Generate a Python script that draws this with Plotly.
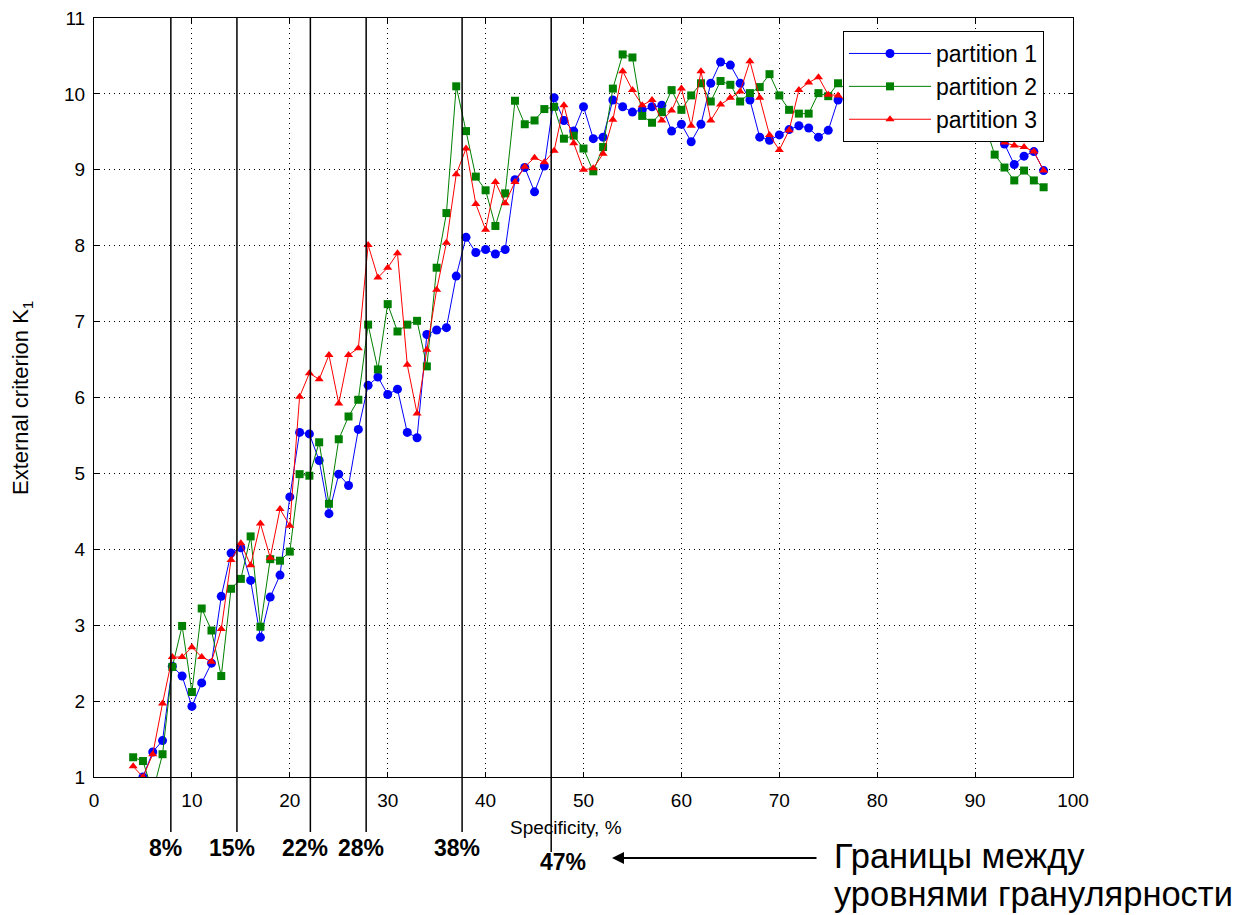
import plotly.graph_objects as go

# ---------------- data ----------------
specificity = list(range(4, 98))

partition_1 = [None, 1.00, 1.33, 1.48, 2.46, 2.33, 1.93, 2.24, 2.50, 3.38,
               3.95, 4.02, 3.59, 2.84, 3.37, 3.66, 4.69, 5.54, 5.52, 5.17,
               4.47, 4.99, 4.84, 5.58, 6.16, 6.27, 6.04, 6.11, 5.54, 5.47,
               6.83, 6.89, 6.92, 7.60, 8.11, 7.91, 7.95, 7.89, 7.95, 8.87,
               9.03, 8.71, 9.05, 9.95, 9.65, 9.51, 9.83, 9.41, 9.43, 9.92,
               9.83, 9.76, 9.79, 9.83, 9.85, 9.51, 9.60, 9.37, 9.60, 10.14,
               10.42, 10.38, 10.14, 9.92, 9.43, 9.39, 9.46, 9.53, 9.58, 9.55,
               9.43, 9.52, 9.92, 9.95, 10.05, 9.90, 10.10, 10.00, 9.85, 10.05,
               10.15, 9.95, 10.00, 9.90, 10.05, 9.85, 9.75, 9.70, 9.55, 9.34,
               9.07, 9.18, 9.24, 8.99]

partition_2 = [1.26, 1.21, 0.80, 1.30, 2.45, 2.99, 2.12, 3.22, 2.93, 2.33,
               3.48, 3.61, 4.17, 2.98, 3.87, 3.85, 3.97, 4.99, 4.97, 5.41,
               4.60, 5.45, 5.75, 5.97, 6.96, 6.37, 7.23, 6.87, 6.96, 7.01,
               6.41, 7.71, 8.43, 10.10, 9.51, 8.91, 8.73, 8.26, 8.69, 9.91,
               9.60, 9.65, 9.80, 9.83, 9.41, 9.45, 9.28, 8.98, 9.30, 10.07,
               10.52, 10.48, 9.71, 9.62, 9.76, 10.05, 9.79, 9.98, 10.14, 9.90,
               10.17, 10.12, 9.90, 10.01, 10.09, 10.26, 9.98, 9.79, 9.74, 9.74,
               10.01, 9.97, 10.14, 10.05, 9.90, 10.10, 9.95, 10.00, 10.15, 9.90,
               10.05, 9.85, 10.00, 9.95, 9.80, 9.90, 9.70, 9.60, 9.20, 9.03,
               8.86, 8.99, 8.86, 8.77]

partition_3 = [1.14, 1.00, 1.30, 1.97, 2.58, 2.58, 2.71, 2.58, 2.52, 2.95,
               3.86, 4.08, 3.79, 4.34, 3.89, 4.53, 4.31, 6.01, 6.32, 6.24,
               6.56, 5.92, 6.56, 6.65, 8.01, 7.58, 7.71, 7.90, 6.43, 5.79,
               6.63, 7.42, 8.04, 8.94, 9.28, 8.55, 8.21, 8.84, 8.56, 8.84,
               9.04, 9.16, 9.10, 9.25, 9.85, 9.35, 9.00, 9.02, 9.21, 9.66,
               10.30, 10.05, 9.85, 9.92, 9.65, 9.78, 10.07, 9.58, 10.30, 9.65,
               9.86, 9.95, 10.03, 10.43, 9.95, 9.46, 9.26, 9.52, 10.05, 10.15,
               10.22, 9.99, 9.98, 9.90, 10.05, 9.95, 10.10, 9.90, 10.00, 10.10,
               9.95, 10.00, 9.85, 9.95, 9.80, 9.75, 9.70, 9.60, 9.50, 9.36,
               9.32, 9.30, 9.24, 8.99]

series_names = ["partition 1", "partition 2", "partition 3"]

# granularity boundaries (positions as drawn) and their labels
boundaries = [7.85, 14.6, 22.1, 27.8, 37.6, 46.7]
boundary_labels = ["8%", "15%", "22%", "28%", "38%", "47%"]

x_ticks = list(range(0, 101, 10))
y_ticks = list(range(1, 12))

# ---------------- figure ----------------
W, H = 1241, 915
L, R, T, B = 94, 1073, 18, 777
FONT = "Liberation Sans, Arial, sans-serif"

fig = go.Figure()
styles = [("#0000FF", "circle", 9), ("#008000", "square", 8), ("#FF0000", "triangle-up", 8)]
for name, ys, (col, sym, ms) in zip(series_names, [partition_1, partition_2, partition_3], styles):
    fig.add_trace(go.Scatter(
        x=specificity, y=ys, name=name, mode="lines+markers",
        line=dict(color=col, width=1),
        marker=dict(color=col, symbol=sym, size=ms, line=dict(width=0)),
        connectgaps=False, cliponaxis=True,
    ))

def py(p):  # page y pixel -> paper y
    return (B - p) / (B - T)

def px(p):  # page x pixel -> paper x
    return (p - L) / (R - L)

shapes = []
annotations = []
for i, (b, lab) in enumerate(zip(boundaries, boundary_labels)):
    last = (i == len(boundaries) - 1)
    shapes.append(dict(type="line", xref="x", yref="paper", x0=b, x1=b,
                       y0=py(852 if last else 832), y1=1,
                       line=dict(color="black", width=1.5), layer="above"))
    annotations.append(dict(x=b, y=py(862 if last else 848), xref="x", yref="paper",
                            xanchor="center", yanchor="middle",
                            text="<b>%s</b>" % lab, showarrow=False,
                            xshift=(12 if last else -5),
                            font=dict(family=FONT, size=23, color="black")))

annotations += [
    dict(x=px(566), y=py(827), xref="paper", yref="paper", text="Specificity, %",
         xanchor="center", yanchor="middle", showarrow=False,
         font=dict(family=FONT, size=19, color="black")),
    dict(x=px(22), y=py(398), xref="paper", yref="paper", text="External criterion K<sub>1</sub>",
         xanchor="center", yanchor="middle", textangle=-90, showarrow=False,
         font=dict(family=FONT, size=22, color="black")),
    dict(x=px(612), y=py(858), xref="paper", yref="paper", text="", showarrow=True,
         axref="pixel", ayref="pixel", ax=206, ay=0, arrowhead=2, arrowsize=1.2,
         arrowwidth=2, arrowcolor="black"),
    dict(x=px(832), y=py(856), xref="paper", yref="paper", text="Границы между",
         xanchor="left", yanchor="middle", showarrow=False,
         font=dict(family=FONT, size=34.5, color="black")),
    dict(x=px(832), y=py(894), xref="paper", yref="paper", text="уровнями гранулярности",
         xanchor="left", yanchor="middle", showarrow=False,
         font=dict(family=FONT, size=34.5, color="black")),
]

axis_common = dict(showgrid=True, gridcolor="black", gridwidth=1, griddash="1px,4px",
                   showline=True, linecolor="black", linewidth=1, mirror="ticks",
                   ticks="inside", ticklen=5, tickcolor="black", zeroline=False,
                   tickfont=dict(family=FONT, size=19, color="black"))

fig.update_layout(
    width=W, height=H,
    margin=dict(l=L, r=W - R, t=T, b=H - B, autoexpand=False),
    paper_bgcolor="white", plot_bgcolor="white",
    xaxis=dict(range=[0, 100], tickvals=x_ticks, ticklabelstandoff=6, **axis_common),
    yaxis=dict(range=[1, 11], tickvals=y_ticks, ticklabelstandoff=4, **axis_common),
    shapes=shapes, annotations=annotations,
    legend=dict(x=px(843), y=py(31), xanchor="left", yanchor="top",
                bgcolor="white", bordercolor="black", borderwidth=1,
                itemwidth=82, tracegroupgap=0,
                font=dict(family=FONT, size=23, color="black")),
    showlegend=True,
)

fig.write_html("out.html")
